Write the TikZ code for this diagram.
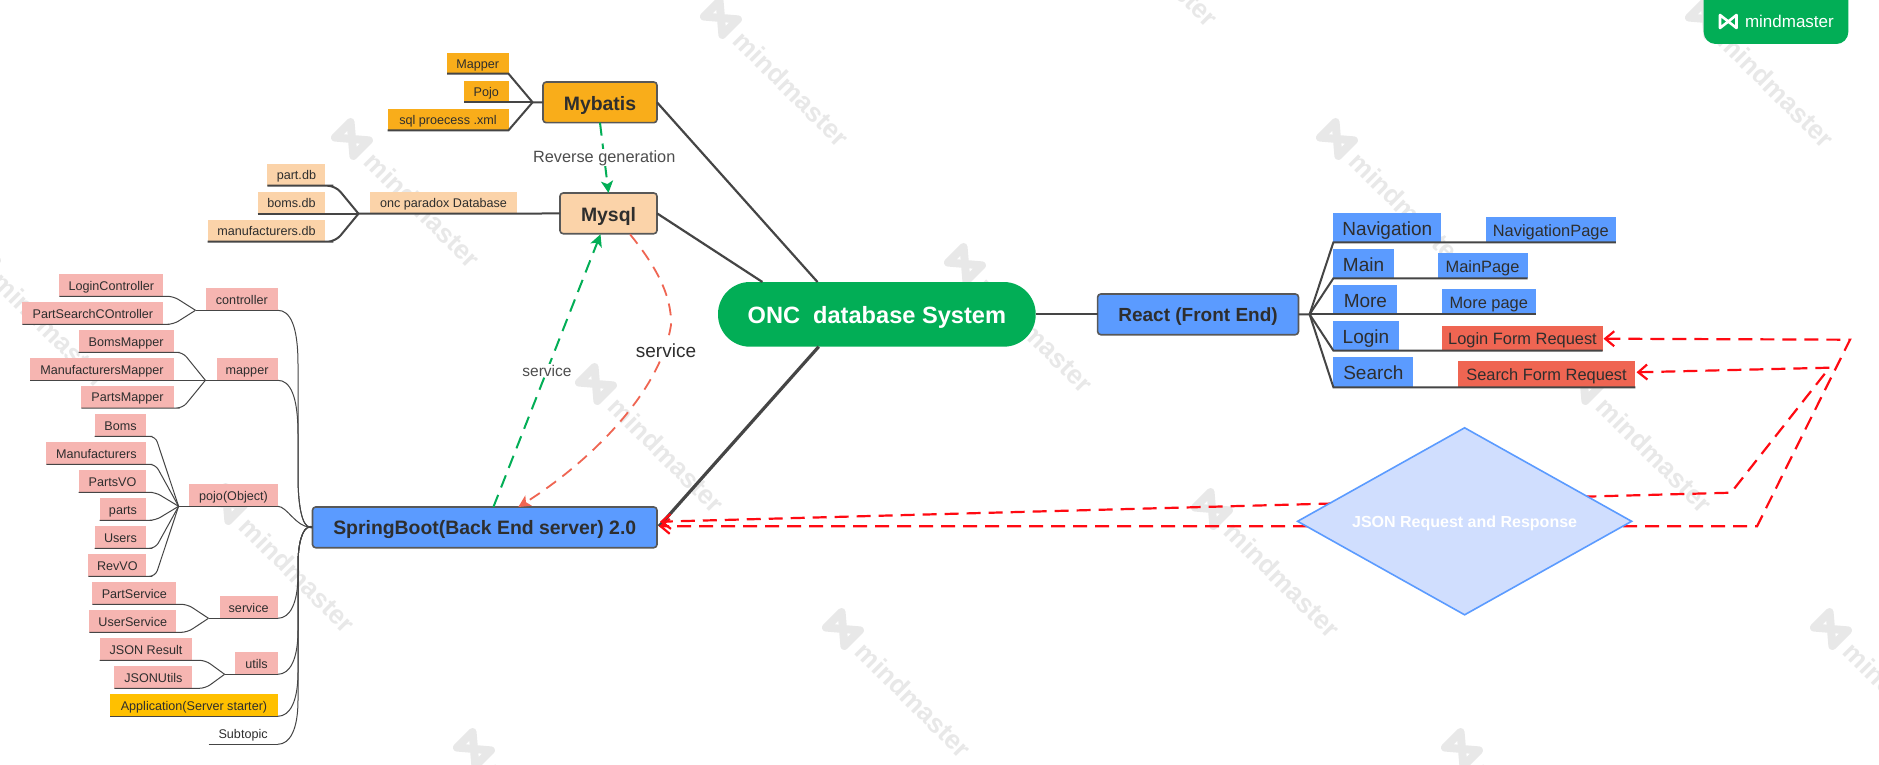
\documentclass[tikz,border=0pt]{standalone}
\usepackage{fontspec}
\setmainfont{Liberation Sans}
\usetikzlibrary{arrows.meta,shapes.geometric,calc}
\definecolor{ink}{HTML}{2E2E2E}
\definecolor{wire}{HTML}{454545}
\definecolor{mmgreen}{HTML}{02AE56}
\definecolor{amber}{HTML}{F9AD1A}
\definecolor{peach}{HTML}{FBD3A9}
\definecolor{pinkb}{HTML}{F6B5B1}
\definecolor{blueb}{HTML}{5B9BFF}
\definecolor{redb}{HTML}{EF6552}
\definecolor{gold}{HTML}{FFC000}
\definecolor{palebl}{HTML}{D0DEFE}
\definecolor{wmgray}{HTML}{E8E8E8}
\definecolor{dashred}{HTML}{FF0A12}
\newcommand{\fs}[1]{\fontsize{#1}{#1}\selectfont}
\newcommand{\lift}{\rule[-.21em]{0pt}{1.21em}}
\newcommand{\bx}[7]{\node[#2,minimum width={(#5-#3)*1pt},minimum height={(#6-#4)*1pt}] (#1) at ({(#3+#5)/2},{(#4+#6)/2}) {\lift#7};}
\newcommand{\wm}[2]{\begin{scope}[shift={(#1,#2)},rotate=-45]
  \draw[wmgray,line width=8pt,line join=round,line cap=round] (-88,-11)--(-88,11)--(-62,-11)--(-62,11)--(-88,-11);
  \node[wmgray,font=\fs{26.5}\bfseries,inner sep=0,anchor=west,rotate=-45] at (-50,0) {mindmaster};
\end{scope}}
\newcommand{\trup}[2]{\draw[thinw] (#1.south east) .. controls (290,#2) and (298,{#2+15}) .. (298,{#2+60}) -- (298,470) .. controls (298,505) and (302,527) .. (jS);}
\newcommand{\trdn}[2]{\draw[thinw] (#1.south east) .. controls (290,#2) and (298,{#2-15}) .. (298,{#2-50}) -- (298,570) .. controls (298,545) and (302,527) .. (jS);}
\tikzset{
  x=1pt,y=-1pt,
  every node/.style={text=ink,inner sep=0,outer sep=0},
  lab/.style={align=center},
  rootb/.style={lab,draw=wire!90,line width=1.6pt,rounded corners=3.2pt,font=\fs{19.4}\bfseries},
  small/.style={lab,font=\fs{12.6}},
  ambb/.style={small,fill=amber},
  peab/.style={small,fill=peach},
  pinb/.style={small,fill=pinkb},
  golb/.style={small,fill=gold},
  nosb/.style={small},
  bigb/.style={lab,fill=blueb,font=\fs{19}},
  pageb/.style={lab,fill=blueb,font=\fs{16.4}},
  formb/.style={lab,fill=redb,font=\fs{16.4}},
  thinw/.style={draw=wire,line width=1pt,rounded corners=6pt},
  fatw/.style={draw=wire,line width=2pt,rounded corners=8pt},
  sharpw/.style={draw=wire,line width=2pt},
  stem/.style={draw=wire,line width=2.2pt},
  greend/.style={draw=mmgreen,line width=2pt,dash pattern=on 13pt off 8pt,-{Stealth[length=12pt,width=12pt,inset=3pt]}},
  oranged/.style={draw=redb,line width=1.8pt,dash pattern=on 12pt off 8pt,-{Stealth[length=12pt,width=12pt,inset=3pt]}},
  redd/.style={draw=dashred,line width=2.2pt,dash pattern=on 14pt off 8pt,{Straight Barb[length=9pt,width=15pt]}-{Straight Barb[length=9pt,width=15pt]}},
  edgelab/.style={fill=white,inner sep=1pt},
}
\begin{document}
\begin{tikzpicture}
\useasboundingbox (0,0) rectangle (1879,765);
\clip (0,0) rectangle (1879,765);
\fill[white] (0,0) rectangle (1879,765);
% watermark
\wm{1143}{-49}\wm{774}{71}\wm{405}{192}\wm{1759}{72}\wm{1390}{192}
\wm{33}{312}\wm{1018}{317}\wm{649}{437}\wm{1637}{437}\wm{280}{557}
\wm{1265}{562}\wm{896}{682}\wm{1884}{682}\wm{527}{802}\wm{1515}{802}
% badge
\fill[mmgreen,rounded corners=12pt] (1703.7,-30) rectangle (1848.3,44);
\draw[white,line width=2.6pt,line join=round] (1720,15)--(1720,28)--(1736.5,15)--(1736.5,28)--cycle;
\node[text=white,font=\fs{17},inner sep=0,anchor=west] (badge) at (1745,21) {mindmaster};
% root nodes
\bx{onc}{lab,fill=mmgreen,text=white,rounded corners=32pt,font=\fs{23.6}\bfseries}{718}{282}{1035.7}{346.7}{ONC\ \ database System}
\bx{mybatis}{rootb,fill=amber}{543}{82}{657}{122.7}{Mybatis}
\bx{mysql}{rootb,fill=peach}{560}{193}{657}{233.7}{Mysql}
\bx{spring}{rootb,fill=blueb}{312.5}{507}{657}{547.7}{SpringBoot(Back End server) 2.0}
\bx{react}{rootb,fill=blueb,font=\fs{19}\bfseries}{1097.6}{294}{1298.5}{334.7}{React (Front End)}
% Mybatis children
\bx{mapperA}{ambb}{447}{52.7}{508.5}{73.7}{Mapper}
\bx{pojoA}{ambb}{464}{80.7}{508.5}{102.3}{Pojo}
\bx{sqlA}{ambb}{387.5}{108.7}{508.5}{130.3}{sql proecess .xml}
% Mysql children
\bx{partdb}{peab}{267.4}{163.7}{325.4}{185.7}{part.db}
\bx{bomsdb}{peab}{257.6}{191.7}{325.4}{213.7}{boms.db}
\bx{manudb}{peab}{207.6}{219.7}{325.4}{241.7}{manufacturers.db}
\bx{paradox}{peab}{369.6}{191.7}{517.4}{213.7}{onc paradox Database}
% SpringBoot children
\bx{loginc}{pinb}{59.4}{274.3}{163.4}{296.3}{LoginController}
\bx{partsc}{pinb}{22.3}{302.3}{163.4}{324.3}{PartSearchCOntroller}
\bx{ctrl}{pinb}{206}{288.3}{277.7}{310.3}{controller}
\bx{bomsm}{pinb}{78.6}{330.3}{173.7}{352.3}{BomsMapper}
\bx{manum}{pinb}{30.4}{358.3}{173.7}{380.3}{ManufacturersMapper}
\bx{partsm}{pinb}{81.3}{386}{173.7}{408}{PartsMapper}
\bx{mapg}{pinb}{216.5}{358.3}{277.7}{380.3}{mapper}
\bx{boms}{pinb}{94.6}{414.3}{146.4}{436.3}{Boms}
\bx{manuf}{pinb}{46.4}{442.3}{146.4}{464.3}{Manufacturers}
\bx{partsvo}{pinb}{78.6}{470.3}{146.4}{492.3}{PartsVO}
\bx{parts}{pinb}{99.6}{498.3}{146.4}{520.3}{parts}
\bx{users}{pinb}{94.6}{526.3}{146.4}{548.3}{Users}
\bx{revvo}{pinb}{88.4}{554.3}{146.4}{576.3}{RevVO}
\bx{pojog}{pinb}{189.3}{484.3}{277.7}{506.3}{pojo(Object)}
\bx{parts2}{pinb}{92.4}{582.3}{176.3}{604.3}{PartService}
\bx{users2}{pinb}{89.3}{610.3}{176.3}{632.3}{UserService}
\bx{srvg}{pinb}{219.6}{596.3}{277.7}{618.3}{service}
\bx{jres}{pinb}{99.6}{638.3}{192.4}{660.3}{JSON Result}
\bx{jutl}{pinb}{114.3}{666.3}{192.4}{688.3}{JSONUtils}
\bx{utlg}{pinb}{235.3}{652.3}{277.7}{674.3}{utils}
\bx{appn}{golb}{110.3}{694.3}{277.7}{716.3}{Application(Server starter)}
\bx{subt}{nosb}{208.5}{722.3}{277.7}{744.3}{Subtopic}
% React children
\bx{nav}{bigb}{1333.4}{212.7}{1441.3}{242.3}{Navigation}
\bx{navp}{pageb}{1485.7}{217.3}{1615.8}{242.3}{NavigationPage}
\bx{main}{bigb}{1333.4}{248.7}{1393.7}{278.3}{Main}
\bx{mainp}{pageb}{1437.6}{253.3}{1527.5}{278.3}{MainPage}
\bx{more}{bigb}{1333.4}{284.7}{1397.4}{314.3}{More}
\bx{morep}{pageb}{1441.9}{289.3}{1535.5}{314.3}{More page}
\bx{login}{bigb}{1333.4}{321.3}{1398.5}{350.6}{Login}
\bx{loginf}{formb}{1442.4}{326.3}{1602.6}{350.6}{Login Form Request}
\bx{search}{bigb}{1333.4}{357.3}{1413.3}{387.3}{Search}
\bx{searchf}{formb}{1457.7}{361.3}{1635.4}{387.3}{Search Form Request}
% junctions and free ends
\coordinate (jM) at (532.6,102.3);
\coordinate (jP) at (358.5,213.7);
\coordinate (jC) at (195.5,310.3);
\coordinate (jG) at (205.4,380.3);
\coordinate (jO) at (178.6,506.3);
\coordinate (jV) at (208.5,618.3);
\coordinate (jU) at (224.6,674.3);
\coordinate (jS) at (310,527);
\coordinate (jR) at (1309.6,314.3);
\coordinate (oA) at (817.5,282);
\coordinate (oB) at (762.4,282);
\coordinate (oC) at (818.7,346.7);
\coordinate (sGreen) at (493.4,507);
\coordinate (tGreen) at (600.5,234.3);
\coordinate (sOrange) at (630,234.3);
\coordinate (tOrange) at (518.3,507);
\coordinate (sTipA) at (659,526.3);
\coordinate (sTipB) at (660,521.7);
\coordinate (lTip) at (1603.5,338.7);
\coordinate (fTip) at (1636.5,372.3);
\coordinate (wA) at (1850,339.7);
\coordinate (wB) at (1757,526.3);
\coordinate (wC) at (1829.5,367.7);
\coordinate (wD) at (1731,492.7);
% main stems
\draw[stem] (mybatis.east) -- (oA);
\draw[stem] (mysql.east) -- (oB);
\draw[stem,line width=3.2pt] (sTipA) -- (oC);
\draw[stem] (onc.east) -- (react.west);
% Mybatis
\draw[sharpw] (mapperA.south west) -- (mapperA.south east) -- (jM);
\draw[sharpw] (pojoA.south west) -- (jM);
\draw[sharpw] (sqlA.south west) -- (sqlA.south east) -- (jM);
\draw[sharpw] (jM) -- (mybatis.west);
% Mysql
\draw[fatw] (partdb.south west) -- (partdb.south east) -- ++(10,0) -- (jP);
\draw[sharpw] (bomsdb.south west) -- (jP);
\draw[fatw] (manudb.south west) -- (manudb.south east) -- ++(10,0) -- (jP);
\draw[sharpw] (jP) -- (paradox.south east) -- (mysql.west);
% SpringBoot groups
\draw[thinw] (loginc.south west) -- (loginc.south east) -- ++(10,0) -- (jC);
\draw[thinw] (partsc.south west) -- (partsc.south east) -- ++(10,0) -- (jC);
\draw[thinw] (jC) -- (ctrl.south east);
\draw[thinw] (bomsm.south west) -- (bomsm.south east) -- ++(9,0) -- (jG);
\draw[thinw] (manum.south west) -- (jG);
\draw[thinw] (partsm.south west) -- (partsm.south east) -- ++(9,0) -- (jG);
\draw[thinw] (jG) -- (mapg.south east);
\foreach \n in {boms,manuf,partsvo,parts,users,revvo} {\draw[thinw] (\n.south west) -- (\n.south east) -- ++(9,0) -- (jO);}
\draw[thinw] (jO) -- (pojog.south east);
\draw[thinw] (parts2.south west) -- (parts2.south east) -- ++(11,0) -- (jV);
\draw[thinw] (users2.south west) -- (users2.south east) -- ++(11,0) -- (jV);
\draw[thinw] (jV) -- (srvg.south east);
\draw[thinw] (jres.south west) -- (jres.south east) -- ++(13,0) -- (jU);
\draw[thinw] (jutl.south west) -- (jutl.south east) -- ++(13,0) -- (jU);
\draw[thinw] (jU) -- (utlg.south east);
\trup{ctrl}{310.3}
\trup{mapg}{380.3}
\draw[thinw] (pojog.south east) .. controls (287,506.3) and (296,527) .. (jS);
\trdn{srvg}{618.3}
\trdn{utlg}{674.3}
\trdn{appn}{716.3}
\draw[thinw] (appn.south west) -- (appn.south east);
\trdn{subt}{744.3}
\draw[thinw] (subt.south west) -- (subt.south east);
\draw[stem] (spring.west) -- (jS);
% React
\draw[sharpw] (react.east) -- (jR);
\foreach \a/\b in {nav/navp,main/mainp,more/morep,login/loginf,search/searchf} {\draw[sharpw] (jR) -- (\a.south west) -- (\b.south east);}
% associations
\draw[greend] (mybatis.south) -- node[edgelab,text=ink!85,font=\fs{16.3}] (revgen) {Reverse generation} (mysql.north);
\draw[greend] (sGreen) -- node[edgelab,text=ink!85,font=\fs{15.5}] (svcA) {service} (tGreen);
\draw[oranged] (sOrange) .. controls (655,265) and (672,295) .. (671,325) .. controls (660,395) and (585,465) .. (tOrange);
\node[edgelab,font=\fs{19}] (svcB) at (666,350.3) {service};
\draw[redd] (lTip) -- (wA) -- (wB) -- (sTipA);
\draw[redd] (fTip) -- (wC) -- (wD) -- (sTipB);
% diamond
\node[diamond,aspect=1.79,draw=blueb,line width=1.6pt,fill=palebl,minimum width=334pt,minimum height=187pt,text=white,font=\fs{16}\bfseries] (json) at (1464.6,521.3) {\lift JSON Request and Response};
\end{tikzpicture}
\end{document}
